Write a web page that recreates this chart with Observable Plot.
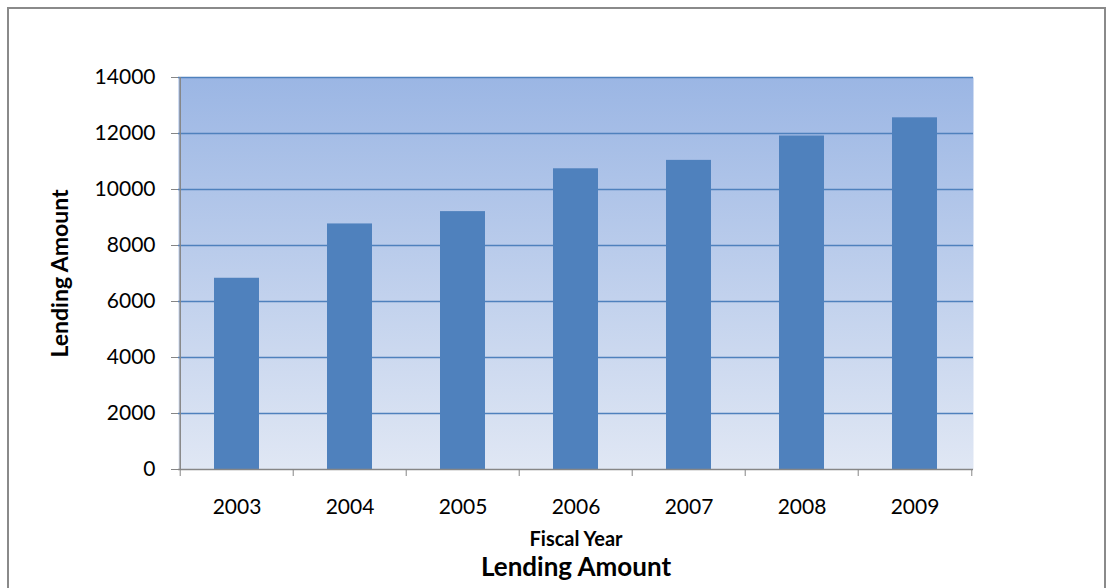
<!DOCTYPE html>
<html>
<head>
<meta charset="utf-8">
<script src="https://cdn.jsdelivr.net/npm/d3@7"></script>
<script src="https://cdn.jsdelivr.net/npm/@observablehq/plot@0.6"></script>
<style>
  html, body { margin: 0; padding: 0; background: #fff; width: 1108px; height: 588px; overflow: hidden; }
  #wrap { position: relative; width: 1108px; height: 588px; }
  #border { position: absolute; left: 7px; top: 7px; width: 1099px; height: 600px; border: 2px solid #8a8a8a; border-bottom: none; box-sizing: border-box; }
  #chart { position: absolute; left: 0; top: 0; }
</style>
</head>
<body>
<div id="wrap"><div id="border"></div><div id="chart"></div></div>
<script>
const years = ["2003", "2004", "2005", "2006", "2007", "2008", "2009"];
const lending = [6830, 8770, 9210, 10740, 11040, 11910, 12560];
const yTicks = [0, 2000, 4000, 6000, 8000, 10000, 12000, 14000];
const xTitle = "Fiscal Year";
const yTitle = "Lending Amount";
const chartTitle = "Lending Amount";

const W = 1108, H = 588, ML = 178, MR = 135, MT = 77, MB = 119;
const step = (W - ML - MR) / years.length;
const font = "Lato, 'Open Sans', sans-serif";
const axisGray = "#868686";

const defs = () => {
  const d = d3.create("svg:defs");
  const g = d.append("linearGradient").attr("id", "bg").attr("x1", 0).attr("y1", 0).attr("x2", 0).attr("y2", 1);
  g.append("stop").attr("offset", "0%").attr("stop-color", "#9bb6e4");
  g.append("stop").attr("offset", "100%").attr("stop-color", "#e0e7f4");
  return d.node();
};

const plot = Plot.plot({
  width: W, height: H,
  marginLeft: ML, marginRight: MR, marginTop: MT, marginBottom: MB,
  style: { fontFamily: font, fontSize: "21px", color: "#000", background: "transparent", overflow: "visible" },
  x: { domain: years, paddingInner: 0.6, paddingOuter: 0.3 },
  y: { domain: [0, 14000] },
  marks: [
    defs,
    Plot.frame({ fill: "url(#bg)", stroke: null }),
    Plot.ruleY(yTicks.slice(1), { stroke: "#4f81bd", strokeWidth: 1.5 }),
    Plot.barY(years.map((y, i) => ({ year: y, value: lending[i] })), { x: "year", y: "value", fill: "#4f81bd" }),
    Plot.ruleX([years[0]], { dx: -step / 2, y1: 0, y2: 14000, stroke: axisGray, strokeWidth: 1.5 }),
    Plot.ruleY([0], { stroke: axisGray, strokeWidth: 1.5 }),
    Plot.axisY(yTicks, { tickSize: 7, tickPadding: 16, stroke: axisGray, label: null, fontSize: 21, tickFormat: d => String(d) }),
    Plot.axisX(years, { tickSize: 7, tickFormat: () => "", stroke: axisGray, dx: -step / 2, label: null }),
    Plot.axisX([years[years.length - 1]], { tickSize: 7, tickFormat: () => "", stroke: axisGray, dx: step / 2, label: null }),
    Plot.axisX(years, { tickSize: 0, tickPadding: 30, label: null, fontSize: 21 }),
    Plot.text([xTitle], { frameAnchor: "bottom", dy: 76, fontWeight: "bold", fontSize: 20 }),
    Plot.text([chartTitle], { frameAnchor: "bottom", dy: 106, fontWeight: "bold", fontSize: 26 }),
    Plot.text([yTitle], { frameAnchor: "left", textAnchor: "middle", dx: -118, rotate: -90, fontWeight: "bold", fontSize: 23 })
  ]
});
document.getElementById("chart").appendChild(plot);
</script>
</body>
</html>
